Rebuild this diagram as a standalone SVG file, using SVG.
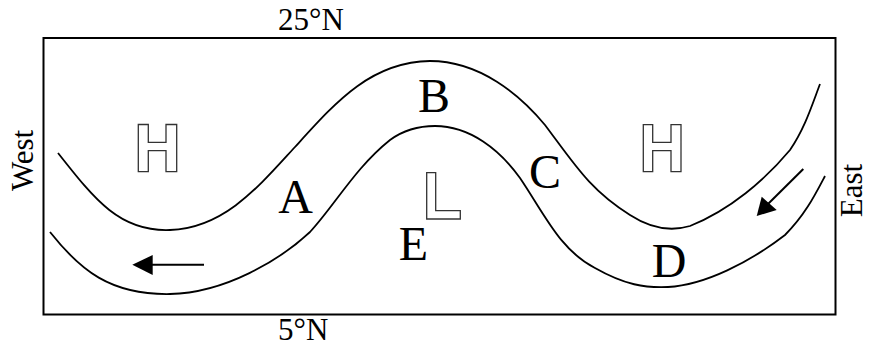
<svg xmlns="http://www.w3.org/2000/svg" width="870" height="347" viewBox="0 0 870 347">
<defs>
<style>
.lbl{font-family:"Liberation Serif","Times New Roman",serif;fill:#000}
.big{font-size:48px;text-anchor:middle}
.side{font-size:31px}
.curve{fill:none;stroke:#000;stroke-width:1.8}
.outl{fill:#fff;stroke:#333;stroke-width:1.3}
.arrow{fill:none;stroke:#000;stroke-width:2}
</style>
<marker id="ah" viewBox="0 0 10 10" refX="10" refY="5" markerWidth="10" markerHeight="10" markerUnits="userSpaceOnUse" orient="auto">
<path d="M0,0 L10,5 L0,10 Z" fill="#000"/>
</marker>
</defs>
<rect width="870" height="347" fill="#fff"/>
<g id="frame">
<rect x="43.5" y="38" width="792" height="276.5" fill="none" stroke="#000" stroke-width="2"/>
<text class="lbl side" x="278" y="29.5">25°N</text>
<text class="lbl side" x="278" y="340">5°N</text>
<text class="lbl side" text-anchor="middle" transform="translate(33,160.5) rotate(-90)">West</text>
<text class="lbl side" text-anchor="middle" transform="translate(861.5,190.5) rotate(-90)">East</text>
</g>
<g id="connectors">
<path id="upper-stream" class="curve" d="M58,153 C95,200 120,232 170,230 C225,228 260,185 295,147 C335,103 370,62 430,61 C480,61 520,95 545,125 C575,165 590,190 630,215 C650,228 670,232 690,226 C730,210 765,180 790,150 C805,128 812,105 820,84"/>
<path id="lower-stream" class="curve" d="M50,232 C80,270 110,295 170,294 C225,293 280,260 310,232 C335,205 355,168 390,140 C405,129 420,126 435,126 C470,126 500,150 520,178 C545,215 560,250 595,268 C625,285 645,288 668,287 C705,285 750,262 785,235 C805,215 815,195 825,176"/>
<g id="arrow-west">
<line x1="204" y1="264.7" x2="152" y2="264.7" stroke="#000" stroke-width="2"/>
<polygon points="132.3,264.7 152.7,255 152.7,275" fill="#000"/>
</g>
<g id="arrow-sw">
<line x1="803.3" y1="169" x2="768" y2="204" stroke="#000" stroke-width="2"/>
<polygon points="756.7,216 761.7,196.7 776.7,210" fill="#000"/>
</g>
</g>
<g id="high-west">
<path class="outl" d="M138.3,124.5 H148.3 V142.3 H166 V124.5 H176.7 V171.7 H166 V150.7 H148.3 V171.7 H138.3 Z"/>
</g>
<g id="high-east">
<path class="outl" d="M643.3,124.7 H652.7 V142.3 H671 V124.7 H681 V171.7 H671 V150.7 H652.7 V171.7 H643.3 Z"/>
</g>
<g id="low">
<path class="outl" d="M426.7,172.7 H435.7 V210.7 H460.3 V219 H426.7 Z"/>
</g>
<g id="label-A"><text class="lbl big" x="295.5" y="212.7">A</text></g>
<g id="label-B"><text class="lbl big" x="434" y="111.7">B</text></g>
<g id="label-C"><text class="lbl big" x="545" y="187.5">C</text></g>
<g id="label-D"><text class="lbl big" x="669" y="276.7">D</text></g>
<g id="label-E"><text class="lbl big" x="413.5" y="260">E</text></g>
</svg>
